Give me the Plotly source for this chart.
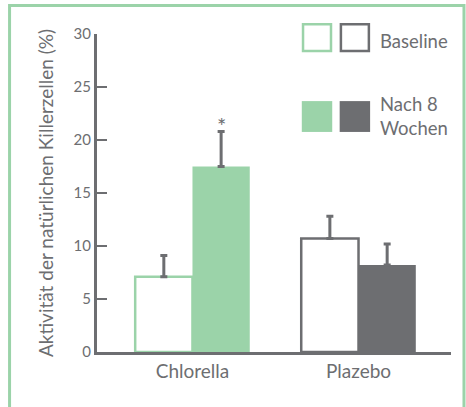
import plotly.graph_objects as go

# Data
categories = ["Chlorella", "Plazebo"]
baseline = [7.1, 10.7]
baseline_err = [2.0, 2.1]
week8 = [17.5, 8.2]
week8_err = [3.3, 2.0]
y_ticks = [0, 5, 10, 15, 20, 25, 30]

GREEN = "#9bd3a9"
GREY = "#6d6e71"
FONT = "Lato"

x_idx = list(range(len(categories)))

fig = go.Figure()

# Baseline bars: white with coloured outline
fig.add_trace(go.Bar(
    x=x_idx, y=baseline,
    marker=dict(color="white", line=dict(color=[GREEN, GREY], width=2.5)),
    error_y=dict(type="data", array=baseline_err, arrayminus=[0, 0], symmetric=False,
                 color=GREY, thickness=3, width=3.5),
    showlegend=False,
))
# Week-8 bars: solid fill
fig.add_trace(go.Bar(
    x=x_idx, y=week8,
    marker=dict(color=[GREEN, GREY], line=dict(width=0)),
    error_y=dict(type="data", array=week8_err, arrayminus=[0, 0], symmetric=False,
                 color=GREY, thickness=3, width=3.5),
    showlegend=False,
))

bargap = 0.31
bar_w = (1 - bargap) / 2

# Significance marker above the Chlorella week-8 bar
fig.add_annotation(
    x=x_idx[0] + bar_w / 2, y=week8[0] + week8_err[0],
    text="*", showarrow=False, yanchor="bottom", yshift=-9,
    font=dict(family=FONT, size=22, color=GREY),
)

shapes = []
# Outer frame
shapes.append(dict(type="rect", xref="paper", yref="paper",
                   x0=-0.247, x1=1.0367, y0=-0.3, y1=1.0896,
                   line=dict(color=GREEN, width=3), fillcolor="rgba(0,0,0,0)", layer="below"))
# Legend swatches
shapes.append(dict(type="rect", xref="paper", yref="paper", x0=0.582, x1=0.661, y0=0.9465, y1=1.031,
                   line=dict(color=GREEN, width=2.5), fillcolor="white"))
shapes.append(dict(type="rect", xref="paper", yref="paper", x0=0.689, x1=0.768, y0=0.9465, y1=1.031,
                   line=dict(color=GREY, width=2.5), fillcolor="white"))
shapes.append(dict(type="rect", xref="paper", yref="paper", x0=0.5785, x1=0.6645, y0=0.692, y1=0.789,
                   line=dict(width=0), fillcolor=GREEN))
shapes.append(dict(type="rect", xref="paper", yref="paper", x0=0.6855, x1=0.7715, y0=0.692, y1=0.789,
                   line=dict(width=0), fillcolor=GREY))

fig.add_annotation(xref="paper", yref="paper", x=0.793, y=0.978, text="Baseline",
                   showarrow=False, xanchor="left", yanchor="middle",
                   font=dict(family=FONT, size=18.5, color=GREY))
fig.add_annotation(xref="paper", yref="paper", x=0.793, y=0.742, text="Nach 8<br>Wochen",
                   showarrow=False, xanchor="left", yanchor="middle", align="left",
                   font=dict(family=FONT, size=18.5, color=GREY))

fig.update_layout(
    width=466, height=407,
    margin=dict(l=97, r=15, t=34, b=55),
    paper_bgcolor="white", plot_bgcolor="white",
    barmode="group", bargap=bargap, bargroupgap=0,
    shapes=shapes,
    font=dict(family=FONT, color=GREY),
)
fig.update_xaxes(
    range=[-0.575, 1.557], tickvals=x_idx, ticktext=categories,
    showline=True, linecolor=GREY, linewidth=3, ticks="", showgrid=False, zeroline=False,
    tickfont=dict(family=FONT, size=19, color=GREY),
)
fig.update_yaxes(
    range=[0, 30], tickvals=y_ticks,
    showline=True, linecolor=GREY, linewidth=3, ticks="inside", ticklen=10, tickwidth=2,
    tickcolor=GREY, showgrid=False, zeroline=False,
    tickfont=dict(family=FONT, size=15, color=GREY),
    title=dict(text="Aktivität der natürlichen Killerzellen (%)", standoff=15,
               font=dict(family=FONT, size=19, color=GREY)),
)

fig.write_html("out.html")
